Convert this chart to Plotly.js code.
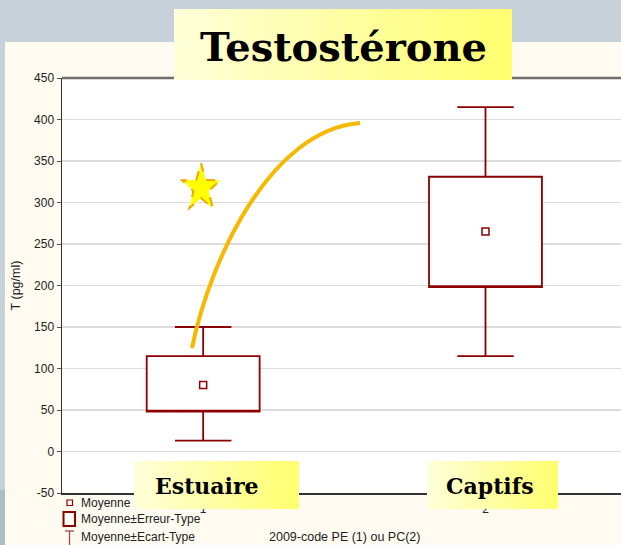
<!DOCTYPE html>
<html>
<head>
<meta charset="utf-8">
<script src="https://cdn.plot.ly/plotly-3.0.1.min.js"></script>
<style>
body { margin: 0; background: #fffbf0; overflow: hidden; }
#plot { width: 621px; height: 545px; }
</style>
</head>
<body>
<div id="plot"></div>
<script>
// group codes on the x axis (1 = PE, 2 = PC) and their names
let groupCodes = [1, 2];
let groupNames = ["Estuaire", "Captifs"];

// T (pg/ml): mean, mean ± standard error, mean ± standard deviation
let means = [80, 265];
let seLow = [48, 198];
let seHigh = [115, 331];
let sdLow = [13, 115];
let sdHigh = [150, 415];

let yTicks = [-50, 0, 50, 100, 150, 200, 250, 300, 350, 400, 450];

let dark = "#8b0000";

// pixel -> paper helpers (plot area is 62..621 x 78..493)
function px(x) { return (x - 62) / 559; }
function py(y) { return (493 - y) / 415; }

// yellow gradient box made of thin strips
function gradBox(x0, y0, x1, y1) {
    let out = [];
    let n = 30;
    for (let i = 0; i < n; i++) {
        let t = i / (n - 1);
        let b = Math.round(216 - t * (216 - 112));
        let a = x0 + (x1 - x0) * i / n;
        let c = x0 + (x1 - x0) * (i + 1) / n + 0.6;
        out.push({
            type: "rect", xref: "paper", yref: "paper", layer: "above",
            x0: px(a), x1: px(Math.min(c, x1)), y0: py(y1), y1: py(y0),
            fillcolor: "rgb(255,255," + b + ")", line: { width: 0 }
        });
    }
    return out;
}

// box for the SE range, whiskers for the SD range
let boxTrace = {
    type: "box",
    x: groupCodes,
    q1: seLow,
    median: seLow,
    q3: seHigh,
    lowerfence: sdLow,
    upperfence: sdHigh,
    width: 0.4,
    whiskerwidth: 0.5,
    boxpoints: false,
    fillcolor: "white",
    line: { color: dark, width: 1.8 },
    hoverinfo: "skip",
    showlegend: false
};

let meanTrace = {
    type: "scatter",
    mode: "markers",
    x: groupCodes,
    y: means,
    marker: { symbol: "square-open", size: 7, color: dark, line: { width: 1.5, color: dark } },
    hoverinfo: "skip",
    showlegend: false
};

let shapes = [];

// slide background bands
shapes.push({ type: "rect", xref: "paper", yref: "paper", layer: "below",
    x0: px(0), x1: px(621), y0: py(42), y1: py(0), fillcolor: "#c6d1d9", line: { width: 0 } });
shapes.push({ type: "rect", xref: "paper", yref: "paper", layer: "below",
    x0: px(0), x1: px(5), y0: py(490), y1: py(42), fillcolor: "#c6d1d9", line: { width: 0 } });
shapes.push({ type: "rect", xref: "paper", yref: "paper", layer: "below",
    x0: px(0), x1: px(5), y0: py(545), y1: py(490), fillcolor: "#a9c0c0", line: { width: 0 } });

// top border of the plot
shapes.push({ type: "line", xref: "paper", yref: "paper", layer: "above",
    x0: 0, x1: 1, y0: 1, y1: 1, line: { color: "#6e6e6e", width: 2.5 } });

// orange curve
let c = [[192, 348], [210, 260], [270, 130], [360, 123]];
shapes.push({ type: "path", xref: "paper", yref: "paper", layer: "above",
    path: "M " + px(c[0][0]) + "," + py(c[0][1]) +
          " C " + px(c[1][0]) + "," + py(c[1][1]) + " " +
          px(c[2][0]) + "," + py(c[2][1]) + " " + px(c[3][0]) + "," + py(c[3][1]),
    line: { color: "#f7b800", width: 4 } });

// star
let sp = "";
for (let i = 0; i < 10; i++) {
    let ang = -Math.PI / 2 + i * Math.PI / 5;
    let rx = (i % 2 === 0) ? 20 : 8;
    let ry = (i % 2 === 0) ? 25 : 10;
    let x = 201 + rx * Math.cos(ang);
    let y = 188 + ry * Math.sin(ang);
    sp += (i === 0 ? "M " : " L ") + px(x) + "," + py(y);
}
sp += " Z";
shapes.push({ type: "path", xref: "paper", yref: "paper", layer: "above",
    path: sp, fillcolor: "#ffff00", line: { color: "#f0a800", width: 2, dash: "dash" } });

// yellow boxes
shapes = shapes.concat(gradBox(174, 9, 512, 80));
shapes = shapes.concat(gradBox(134, 461, 299, 509));
shapes = shapes.concat(gradBox(427, 461, 558, 509));

// legend symbols
shapes.push({ type: "rect", xref: "paper", yref: "paper", layer: "above",
    x0: px(67), x1: px(72.5), y0: py(505.5), y1: py(500), line: { color: dark, width: 1.2 } });
shapes.push({ type: "rect", xref: "paper", yref: "paper", layer: "above",
    x0: px(63.5), x1: px(75), y0: py(526), y1: py(512), line: { color: dark, width: 2 } });
shapes.push({ type: "line", xref: "paper", yref: "paper", layer: "above",
    x0: px(69.5), x1: px(69.5), y0: py(545), y1: py(531), line: { color: "#a04848", width: 1.3 } });
shapes.push({ type: "line", xref: "paper", yref: "paper", layer: "above",
    x0: px(65), x1: px(74), y0: py(531), y1: py(531), line: { color: "#a04848", width: 1.3 } });

let annotations = [
    { text: "<b>Testostérone</b>", x: px(343), y: py(46), font: { family: "DejaVu Serif", size: 40, color: "#000" } },
    { text: "<b>" + groupNames[0] + "</b>", x: px(207), y: py(486), font: { family: "DejaVu Serif", size: 22, color: "#000" } },
    { text: "<b>" + groupNames[1] + "</b>", x: px(490), y: py(486), font: { family: "DejaVu Serif", size: 22, color: "#000" } },
    { text: "Moyenne", x: px(79), y: py(503), xanchor: "left", font: { size: 12, color: "#222" } },
    { text: "Moyenne±Erreur-Type", x: px(79), y: py(519), xanchor: "left", font: { size: 12, color: "#222" } },
    { text: "Moyenne±Ecart-Type", x: px(79), y: py(537), xanchor: "left", font: { size: 12, color: "#222" } },
    { text: "2009-code PE (1) ou PC(2)", x: px(344), y: py(537), font: { size: 12.5, color: "#222" } }
];
annotations.forEach(function (a) {
    a.xref = "paper"; a.yref = "paper"; a.showarrow = false;
    if (!a.xanchor) a.xanchor = "center";
    a.yanchor = "middle";
});

let layout = {
    width: 621,
    height: 545,
    margin: { l: 62, r: 0, t: 78, b: 52 },
    paper_bgcolor: "#fffbf0",
    plot_bgcolor: "white",
    font: { family: "Liberation Sans, Arial, sans-serif", size: 12, color: "#222" },
    showlegend: false,
    xaxis: {
        range: [0.5, 2.48],
        tickvals: groupCodes,
        ticktext: ["1", "2"],
        ticks: "outside", ticklen: 4, tickcolor: "#333",
        showgrid: false, zeroline: false,
        showline: true, linecolor: "#333", linewidth: 1.5,
        fixedrange: true
    },
    yaxis: {
        range: [-50, 450],
        tickvals: yTicks,
        ticktext: yTicks.map(String),
        ticks: "outside", ticklen: 4, tickcolor: "#555",
        showgrid: true, gridcolor: "#dcdcdc", gridwidth: 1.5,
        zeroline: false,
        showline: true, linecolor: "#333", linewidth: 1.5,
        title: { text: "T (pg/ml)", font: { size: 12.5, color: "#222" }, standoff: 10 },
        fixedrange: true
    },
    shapes: shapes,
    annotations: annotations
};

Plotly.newPlot("plot", [boxTrace, meanTrace], layout, { staticPlot: true });
</script>
</body>
</html>
